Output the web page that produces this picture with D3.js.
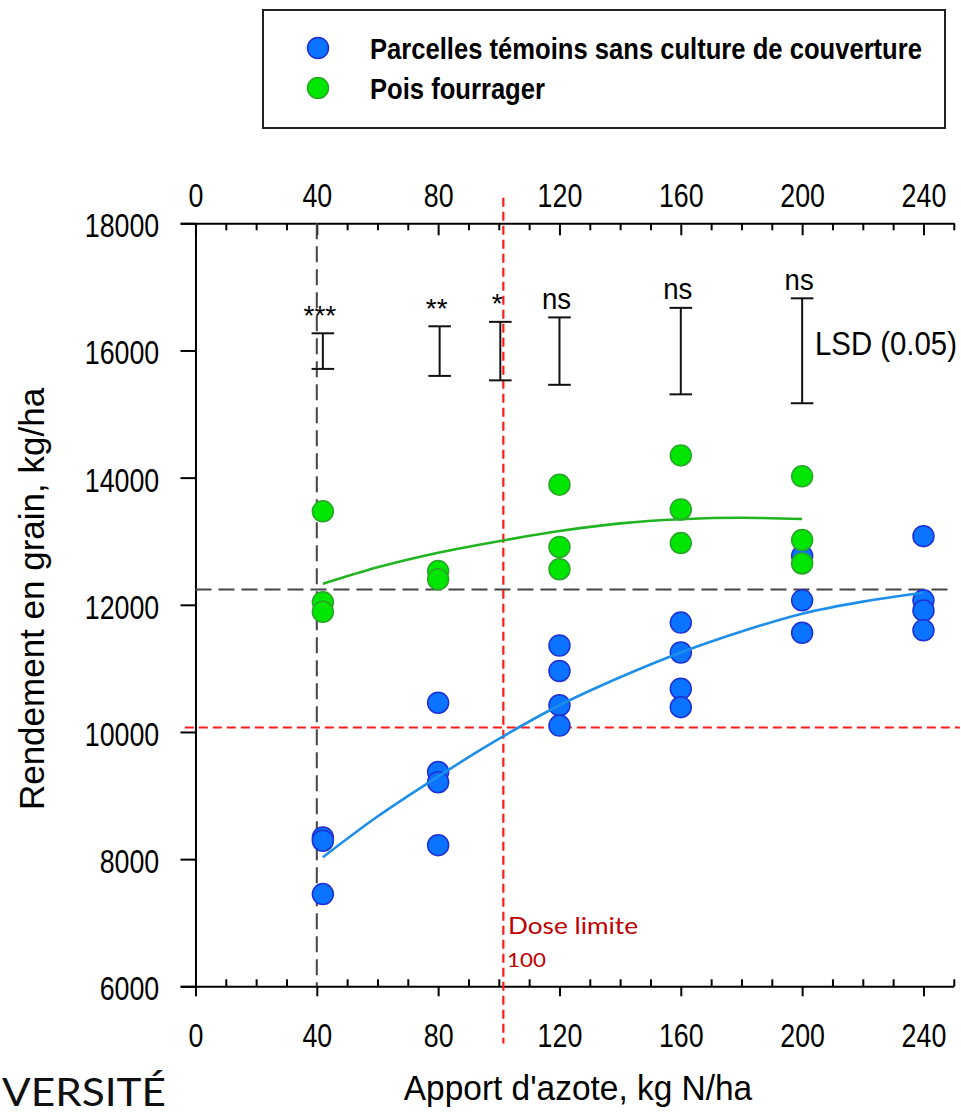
<!DOCTYPE html>
<html><head><meta charset="utf-8">
<script src="https://cdn.jsdelivr.net/npm/d3@7"></script>
<style>body{margin:0;background:#fff} svg{display:block}</style>
</head><body>
<svg id="chart" width="961" height="1117"></svg>
<script>
// ---------- data ----------
const xMajorTicks = [0, 40, 80, 120, 160, 200, 240];
const xMinorTicks = [10, 20, 30, 50, 60, 70, 90, 100, 110, 130, 140, 150, 170, 180, 190, 210, 220, 230, 250];
const yTicks = [6000, 8000, 10000, 12000, 14000, 16000, 18000];

const temoinDose = [42, 80, 120, 160, 200, 240];
const temoinValues = [
  [8340, 8290, 7450],
  [10460, 9370, 9210, 8220],
  [11360, 10960, 10420, 10100],
  [11720, 11250, 10680, 10390],
  [12770, 12070, 11560],
  [13080, 12070, 11910, 11600]
];
const poisDose = [42, 80, 120, 160, 200];
const poisValues = [
  [13470, 12040, 11890],
  [12530, 12400],
  [13890, 12910, 12560],
  [14350, 13500, 12970],
  [14020, 13020, 12650]
];

const temoinFitDose = [42, 60, 80, 100, 120, 140, 160, 180, 200, 220, 240];
const temoinFitYield = [8030, 8670, 9300, 9890, 10420, 10860, 11250, 11580, 11860, 12050, 12190];
const poisFitDose = [42, 60, 80, 100, 120, 140, 160, 180, 200];
const poisFitYield = [12330, 12590, 12820, 13000, 13160, 13280, 13345, 13368, 13350];

const lsdDose = [42, 80.5, 100.5, 120, 160, 200];
const lsdTop = [16270, 16380, 16450, 16520, 16670, 16820];
const lsdBottom = [15710, 15600, 15530, 15460, 15310, 15170];
const lsdSig = ["***", "**", "*", "ns", "ns", "ns"];

const refYield = 12240;      // black dashed horizontal
const refDose = 40;          // black dashed vertical
const limitYield = 10070;    // red dashed horizontal
const limitDose = 101.5;     // red dashed vertical

const legendLabels = ["Parcelles témoins sans culture de couverture", "Pois fourrager"];

// ---------- setup ----------
const svg = d3.select("#chart");
const FONT = "'Liberation Sans', Arial, sans-serif";
const x = d3.scaleLinear().domain([-5, 250]).range([180.3, 953.8]);
const y = d3.scaleLinear().domain([6000, 18000]).range([986.3, 223.3]);

const blueFill = "#0a73ff", blueStroke = "#1f2fd6", blueLine = "#1e8fe8";
const greenFill = "#00e600", greenStroke = "#2aa52a", greenLine = "#20b420";

function addText(parent, px, py, str, o) {
  return parent.append("text")
    .attr("transform", `translate(${px},${py}) scale(${o.sx || 1},1)`)
    .attr("text-anchor", o.anchor || "start")
    .attr("font-family", o.family || FONT)
    .attr("font-size", o.size)
    .attr("font-weight", o.weight || "normal")
    .attr("fill", o.fill || "#000")
    .text(str);
}

// ---------- legend ----------
const lg = svg.append("g");
lg.append("rect").attr("x", 263).attr("y", 10).attr("width", 682).attr("height", 118)
  .attr("fill", "#fff").attr("stroke", "#222").attr("stroke-width", 2);
[[blueFill, blueStroke], [greenFill, greenStroke]].forEach((c, i) => {
  lg.append("circle").attr("cx", 318).attr("cy", 48 + i * 40).attr("r", 10.5)
    .attr("fill", c[0]).attr("stroke", c[1]).attr("stroke-width", 1.5);
  addText(lg, 370, 58.5 + i * 40, legendLabels[i], {size: 29, weight: "bold", sx: 0.883});
});

// ---------- axes ----------
const sx = 0.8;
const topAxis = svg.append("g").attr("transform", `translate(0,${y(18000)})`)
  .call(d3.axisTop(x).tickValues(xMajorTicks).tickSizeInner(-12).tickSizeOuter(0).tickPadding(16.6).tickFormat(d3.format("d")));
const topMinor = svg.append("g").attr("transform", `translate(0,${y(18000)})`)
  .call(d3.axisTop(x).tickValues(xMinorTicks).tickSizeInner(-7).tickSizeOuter(0).tickFormat(""));
const botAxis = svg.append("g").attr("transform", `translate(0,${y(6000)})`)
  .call(d3.axisBottom(x).tickValues(xMajorTicks).tickSizeInner(10).tickSizeOuter(0).tickPadding(26.9).tickFormat(d3.format("d")));
const botMinor = svg.append("g").attr("transform", `translate(0,${y(6000)})`)
  .call(d3.axisBottom(x).tickValues(xMinorTicks).tickSizeInner(-7).tickSizeOuter(0).tickFormat(""));
const leftAxis = svg.append("g").attr("transform", `translate(${x(0)},0)`)
  .call(d3.axisLeft(y).tickValues(yTicks).tickSizeInner(15).tickSizeOuter(0).tickFormat(d3.format("d")));

[topMinor, botMinor].forEach(g => g.select(".domain").remove());
[topAxis, topMinor, botAxis, botMinor, leftAxis].forEach(g => {
  g.select(".domain").attr("stroke", "#000").attr("stroke-width", 2);
  g.selectAll(".tick line").attr("stroke", "#000").attr("stroke-width", 2);
  g.selectAll(".tick text").attr("font-family", FONT).attr("font-size", 33.5).attr("fill", "#000");
});
[topAxis, botAxis].forEach(g => g.selectAll(".tick text").attr("transform", `scale(${sx},1)`));
leftAxis.selectAll(".tick text").attr("x", -36.2 / sx).attr("dy", "0.40em").attr("transform", `scale(${sx},1)`);

// axis titles
addText(svg, 578, 1100, "Apport d'azote, kg N/ha", {size: 35, anchor: "middle", sx: 0.956});
svg.append("text").attr("transform", "translate(44,599) rotate(-90)")
  .attr("text-anchor", "middle").attr("font-family", FONT).attr("font-size", 35)
  .attr("fill", "#000").text("Rendement en grain, kg/ha");

// ---------- reference lines ----------
svg.append("line").attr("x1", x(refDose)).attr("x2", x(refDose)).attr("y1", y(18000)).attr("y2", y(6000))
  .attr("stroke", "#444").attr("stroke-width", 2).attr("stroke-dasharray", "16,7");
svg.append("line").attr("x1", x(0)).attr("x2", x(250)).attr("y1", y(refYield)).attr("y2", y(refYield))
  .attr("stroke", "#444").attr("stroke-width", 2).attr("stroke-dasharray", "16,7");
svg.append("line").attr("x1", x(-3.5)).attr("x2", x(252)).attr("y1", y(limitYield)).attr("y2", y(limitYield))
  .attr("stroke", "#ff1a1a").attr("stroke-width", 2.2).attr("stroke-dasharray", "9,5");
svg.append("line").attr("x1", x(limitDose)).attr("x2", x(limitDose)).attr("y1", y(18400)).attr("y2", y(5100))
  .attr("stroke", "#ff1a1a").attr("stroke-width", 2.2).attr("stroke-dasharray", "9,5");

// ---------- LSD bars ----------
const lsd = svg.append("g").attr("stroke", "#111").attr("stroke-width", 2);
lsdDose.forEach((d, i) => {
  const cx = x(d);
  lsd.append("line").attr("x1", cx).attr("x2", cx).attr("y1", y(lsdTop[i])).attr("y2", y(lsdBottom[i]));
  lsd.append("line").attr("x1", cx - 11.3).attr("x2", cx + 11.3).attr("y1", y(lsdTop[i])).attr("y2", y(lsdTop[i]));
  lsd.append("line").attr("x1", cx - 11.3).attr("x2", cx + 11.3).attr("y1", y(lsdBottom[i])).attr("y2", y(lsdBottom[i]));
  const isNs = lsdSig[i] === "ns";
  addText(svg, cx - 3, y(lsdTop[i]) - 8.5, lsdSig[i], {size: isNs ? 30 : 28, anchor: "middle", sx: isNs ? 0.92 : 1});
});
addText(svg, 815, 355, "LSD (0.05)", {size: 33, sx: 0.89});

// ---------- points ----------
function drawPoints(doses, values, fill, stroke) {
  const pts = [];
  doses.forEach((d, i) => values[i].forEach(v => pts.push([d, v])));
  svg.append("g").selectAll("circle").data(pts).join("circle")
    .attr("cx", p => x(p[0])).attr("cy", p => y(p[1])).attr("r", 10.5)
    .attr("fill", fill).attr("stroke", stroke).attr("stroke-width", 1.5);
}
drawPoints(temoinDose, temoinValues, blueFill, blueStroke);
drawPoints(poisDose, poisValues, greenFill, greenStroke);

// ---------- fitted curves ----------
const line = d3.line().x(p => x(p[0])).y(p => y(p[1])).curve(d3.curveMonotoneX);
svg.append("path").attr("d", line(temoinFitDose.map((d, i) => [d, temoinFitYield[i]])))
  .attr("fill", "none").attr("stroke", blueLine).attr("stroke-width", 2.6);
svg.append("path").attr("d", line(poisFitDose.map((d, i) => [d, poisFitYield[i]])))
  .attr("fill", "none").attr("stroke", greenLine).attr("stroke-width", 2.6);

// ---------- annotations ----------
const red = "#c00000";
svg.append("text").attr("x", 508).attr("y", 934).attr("font-family", "Lato, 'Open Sans', sans-serif")
  .attr("font-size", 24).attr("fill", red).attr("textLength", 130).attr("lengthAdjust", "spacingAndGlyphs").text("Dose limite");
svg.append("text").attr("x", 507).attr("y", 967).attr("font-family", "Lato, 'Open Sans', sans-serif")
  .attr("font-size", 20).attr("fill", red).attr("textLength", 39).attr("lengthAdjust", "spacingAndGlyphs").text("100");

svg.append("text").attr("x", 2).attr("y", 1106)
  .attr("font-family", "Lato, 'Open Sans', sans-serif").attr("font-size", 39).attr("fill", "#111")
  .attr("textLength", 164).attr("lengthAdjust", "spacingAndGlyphs").text("VERSITÉ");
</script>
</body></html>
